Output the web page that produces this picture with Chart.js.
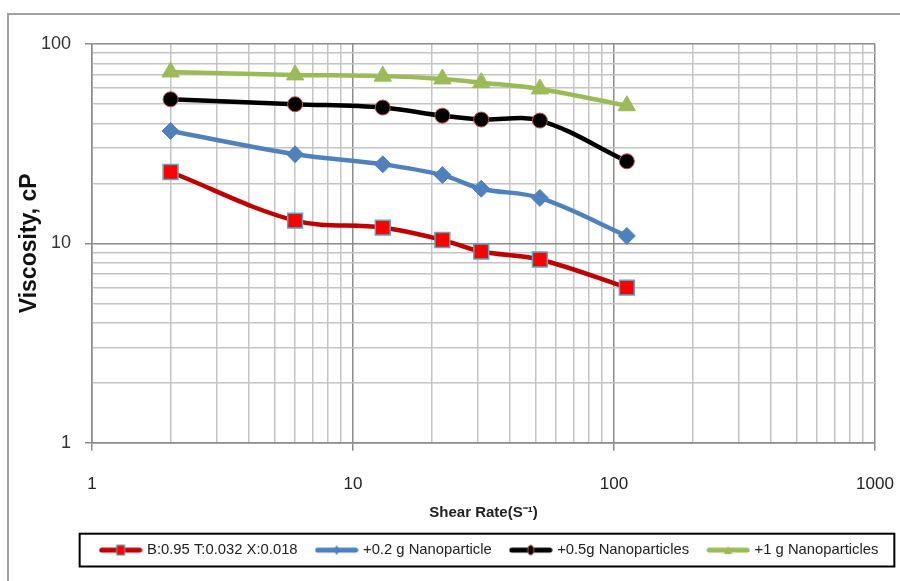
<!DOCTYPE html>
<html>
<head>
<meta charset="utf-8">
<title>Viscosity vs shear rate</title>
<script src="https://cdn.jsdelivr.net/npm/chart.js@4.4.1/dist/chart.umd.min.js"></script>
<style>
  html, body { margin: 0; padding: 0; background: #fff; }
  #wrap { width: 900px; height: 581px; }
</style>
</head>
<body>
<div id="wrap"><canvas id="chart" width="900" height="581"></canvas></div>
<script>
// shear rate, 1/s
const shearRate = [2, 6, 13, 22, 31, 52, 112]

// viscosity, cP
const baseFluid = [22.8, 13.0, 12.0, 10.4, 9.1, 8.3, 6.0]
const nano02 = [36.6, 28.0, 24.9, 22.0, 18.8, 16.9, 10.9]
const nano05 = [52.8, 49.9, 48.0, 43.7, 41.8, 41.3, 25.8]
const nano1 = [72.4, 70.0, 69.0, 66.8, 64.0, 59.5, 49.0]

const seriesNames = [
  "B:0.95 T:0.032 X:0.018",
  "+0.2 g Nanoparticle",
  "+0.5g Nanoparticles",
  "+1 g Nanoparticles"
]

const xDecades = [1, 10, 100]
const yDecades = [1, 10]

function logTicks(decades) {
  const out = []
  decades.forEach(d => { for (let m = 1; m <= 9; m++) out.push({ value: m * d }) })
  out.push({ value: decades[decades.length - 1] * 10 })
  return out
}

const isMajor = v => Math.abs(Math.log10(v) - Math.round(Math.log10(v))) < 1e-9

const toPoints = ys => ys.map((y, i) => ({ x: shearRate[i], y }))

// little line + marker pictures for the legend
function legendIcon(lineColor, drawMarker) {
  const c = document.createElement("canvas")
  c.width = 44
  c.height = 12
  const g = c.getContext("2d")
  g.strokeStyle = lineColor
  g.lineWidth = 5
  g.lineCap = "round"
  g.beginPath()
  g.moveTo(3, 6)
  g.lineTo(41, 6)
  g.stroke()
  drawMarker(g, 22, 6)
  return c
}

const icons = [
  legendIcon("#c00000", (g, x, y) => {
    g.fillStyle = "#ff0000"; g.strokeStyle = "#4bacc6"; g.lineWidth = 1
    g.fillRect(x - 4, y - 5, 8, 10); g.strokeRect(x - 4, y - 5, 8, 10)
  }),
  legendIcon("#4f81bd", (g, x, y) => {
    g.fillStyle = "#4f81bd"
    g.beginPath(); g.moveTo(x, y - 5); g.lineTo(x + 3, y); g.lineTo(x, y + 5); g.lineTo(x - 3, y); g.fill()
  }),
  legendIcon("#000000", (g, x, y) => {
    g.fillStyle = "#000"; g.strokeStyle = "#c0504d"; g.lineWidth = 1
    g.beginPath(); g.ellipse(x, y, 3, 5, 0, 0, Math.PI * 2); g.fill(); g.stroke()
  }),
  legendIcon("#9bbb59", (g, x, y) => {
    g.fillStyle = "#9bbb59"
    g.beginPath(); g.moveTo(x, y - 4); g.lineTo(x + 4, y + 4); g.lineTo(x - 4, y + 4); g.fill()
  })
]

const framePlugin = {
  id: "frame",
  // centre the legend under the plot like the original, not under the canvas
  afterUpdate(chart) {
    const lg = chart.legend
    const shift = 490 - (lg.left + lg.right) / 2
    lg.left += shift
    lg.right += shift
    lg.legendHitBoxes.forEach(b => { b.left += shift })
  },
  afterDraw(chart) {
    const ctx = chart.ctx
    ctx.save()
    ctx.strokeStyle = "#a0a0a0"
    ctx.lineWidth = 2
    ctx.beginPath()
    ctx.moveTo(8, 581)
    ctx.lineTo(8, 14)
    ctx.lineTo(900, 14)
    ctx.stroke()

    const boxes = chart.legend.legendHitBoxes
    if (boxes && boxes.length) {
      const left = Math.min(...boxes.map(b => b.left)) - 22
      const right = Math.max(...boxes.map(b => b.left + b.width)) + 16
      const top = boxes[0].top - 9
      const h = boxes[0].height + 18
      ctx.strokeStyle = "#000"
      ctx.lineWidth = 2
      ctx.strokeRect(left, top, right - left, h)
    }
    ctx.restore()
  }
}

const gridColor = ctx => (ctx.tick && isMajor(ctx.tick.value)) ? "#8c8c8c" : "#c4c4c4"
const tickColor = ctx => (ctx.tick && isMajor(ctx.tick.value)) ? "#8c8c8c" : "rgba(0,0,0,0)"

new Chart(document.getElementById("chart"), {
  type: "line",
  data: {
    datasets: [
      {
        label: seriesNames[0], data: toPoints(baseFluid),
        borderColor: "#c00000", backgroundColor: "#ff0000",
        pointStyle: "rect", pointRadius: 10.5, pointBorderColor: "#4bacc6", pointBorderWidth: 1.5
      },
      {
        label: seriesNames[1], data: toPoints(nano02),
        borderColor: "#4f81bd", backgroundColor: "#4f81bd",
        pointStyle: "rectRot", pointRadius: 8.5, pointBorderColor: "#4f81bd", pointBorderWidth: 1
      },
      {
        label: seriesNames[2], data: toPoints(nano05),
        borderColor: "#000000", backgroundColor: "#000000",
        pointStyle: "circle", pointRadius: 7.5, pointBorderColor: "#c0504d", pointBorderWidth: 1
      },
      {
        label: seriesNames[3], data: toPoints(nano1),
        borderColor: "#9bbb59", backgroundColor: "#9bbb59",
        pointStyle: "triangle", pointRadius: 10, pointBorderColor: "#9bbb59", pointBorderWidth: 1
      }
    ]
  },
  options: {
    responsive: false,
    animation: false,
    layout: { padding: { top: 44, right: 25, left: 0, bottom: 13.5 } },
    elements: {
      line: { borderWidth: 4.5, tension: 0.35, fill: false }
    },
    scales: {
      x: {
        type: "logarithmic",
        min: 1,
        max: 1000,
        afterBuildTicks: s => { s.ticks = logTicks(xDecades) },
        afterFit: s => { s.height = 80; s.paddingRight = 0; s.paddingLeft = 0 },
        grid: { color: gridColor, lineWidth: 1.5, tickLength: 8, tickColor: tickColor, tickWidth: 1.5 },
        border: { color: "#8c8c8c", width: 1.5 },
        ticks: {
          autoSkip: false, maxRotation: 0, padding: 23,
          color: "#222", font: { family: "Liberation Sans", size: 17 },
          callback: v => isMajor(v) ? String(v) : ""
        },
        title: {
          display: true, text: "Shear Rate(S⁻¹)",
          color: "#222", font: { family: "Liberation Sans", size: 15, weight: "bold" },
          padding: { top: 0, bottom: 1 }
        }
      },
      y: {
        type: "logarithmic",
        min: 1,
        max: 100,
        afterBuildTicks: s => { s.ticks = logTicks(yDecades) },
        afterFit: s => { s.width = 92 },
        grid: { color: gridColor, lineWidth: 1.5, tickLength: 7, tickColor: tickColor, tickWidth: 1.5 },
        border: { color: "#8c8c8c", width: 1.5 },
        ticks: {
          autoSkip: false, padding: 14,
          color: "#333", font: { family: "Liberation Sans", size: 18 },
          callback: v => isMajor(v) ? String(v) : ""
        },
        title: {
          display: true, text: "Viscosity, cP",
          color: "#111", font: { family: "Liberation Sans", size: 23, weight: "bold" },
          padding: { top: 16, bottom: 0 }
        }
      }
    },
    plugins: {
      tooltip: { enabled: false },
      legend: {
        position: "bottom",
        labels: {
          usePointStyle: true,
          pointStyleWidth: 38,
          padding: 20,
          color: "#222",
          font: { family: "Liberation Sans", size: 14.8 },
          generateLabels: chart => {
            const items = Chart.defaults.plugins.legend.labels.generateLabels(chart)
            items.forEach((it, i) => { it.pointStyle = icons[i] })
            return items
          }
        }
      }
    }
  },
  plugins: [framePlugin]
})
</script>
</body>
</html>
